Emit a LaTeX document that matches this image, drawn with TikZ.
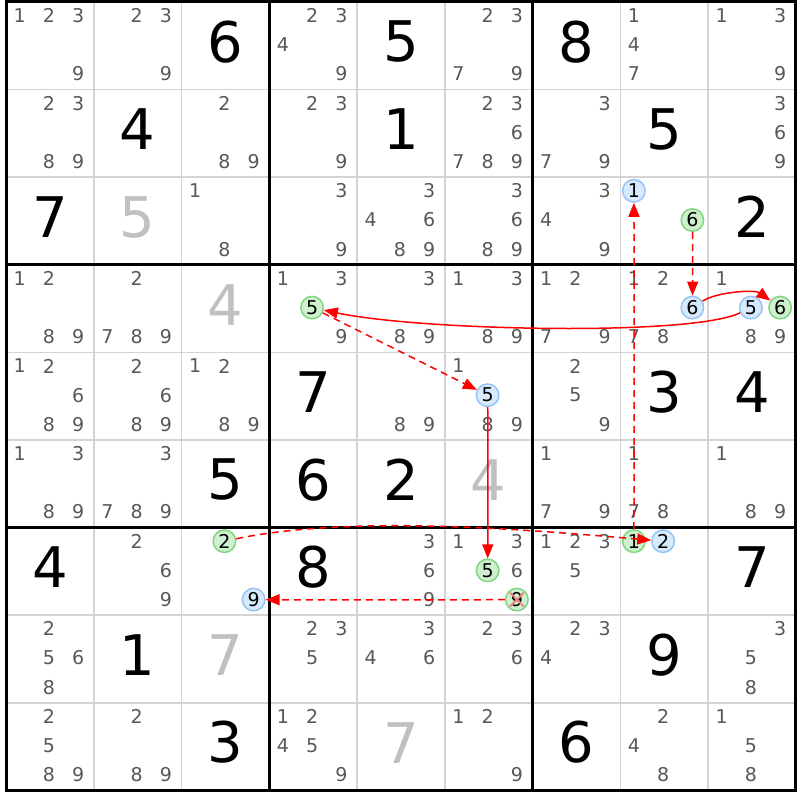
\documentclass[tikz,border=0pt]{standalone}
\usepackage{fontspec}
\setmainfont{DejaVu Sans}
\usetikzlibrary{arrows.meta}
\definecolor{candgray}{RGB}{88,88,88}
\definecolor{solvedgray}{RGB}{192,192,192}
\definecolor{thingray}{RGB}{212,212,212}
\definecolor{bluefill}{RGB}{215,233,252}
\definecolor{bluedraw}{RGB}{150,196,245}
\definecolor{greenfill}{RGB}{206,240,206}
\definecolor{greendraw}{RGB}{128,214,128}
\definecolor{linkred}{RGB}{255,0,0}
\definecolor{xred}{RGB}{240,130,130}
\tikzset{
  cand/.style={text=candgray,font=\fontsize{19}{21}\selectfont,inner sep=0pt},
  given/.style={text=black,font=\fontsize{56}{60}\selectfont,inner sep=0pt},
  solved/.style={text=solvedgray,font=\fontsize{56}{60}\selectfont,inner sep=0pt},
  hlbase/.style={circle,line width=1.5pt,minimum size=22.5pt,inner sep=0pt,text=black,font=\fontsize{19}{21}\selectfont},
  hlblue/.style={hlbase,draw=bluedraw,fill=bluefill},
  hlgreen/.style={hlbase,draw=greendraw,fill=greenfill},
  tipstyle/.style={-{Triangle[length=14pt,width=11pt]}},
  weaklink/.style={color=linkred,draw=linkred,line width=1.5pt,dash pattern=on 7pt off 5pt,tipstyle},
  stronglink/.style={color=linkred,draw=linkred,line width=1.5pt,tipstyle},
  thinline/.style={draw=thingray,line width=1.5pt},
  thickline/.style={draw=black,line width=3pt},
  xmark/.style={draw=xred,line width=1.8pt},
}
\newcommand\cellcands[3]{%
  \foreach \k in {#3}{%
    \pgfmathtruncatemacro\ii{(\k-1)/3}%
    \pgfmathtruncatemacro\jj{\k-1-3*\ii}%
    \node[cand] (n#1#2\k) at ({6+#2*87.75+(\jj+0.5)*29.25-1},{2+#1*87.6+(\ii+0.5)*29.2-1}) {\k};
  }}
\newcommand\hlcand[4]{%
  \pgfmathtruncatemacro\ii{(#3-1)/3}%
  \pgfmathtruncatemacro\jj{#3-1-3*\ii}%
  \node[#4] (n#1#2#3) at ({6+#2*87.75+(\jj+0.5)*29.25-1},{2+#1*87.6+(\ii+0.5)*29.2-1}) {#3};}
\newcommand\bigd[4]{\node[#4] (g#1#2) at ({6+(#2+0.5)*87.75},{2+(#1+0.5)*87.6-4}) {#3};}
\begin{document}
\begin{tikzpicture}[x=1pt,y=-1pt]
\useasboundingbox[fill=white] (0,0) rectangle (800,800);
% thin grid lines
\foreach \i in {1,2,4,5,7,8}{
  \draw[thinline] ({6+\i*87.75},2) -- ({6+\i*87.75},790.4);
  \draw[thinline] (6,{2+\i*87.6}) -- (795.75,{2+\i*87.6});
}
\foreach \i in {3,6}{
  \draw[thickline] ({6+\i*87.75},2) -- ({6+\i*87.75},790.4);
  \draw[thickline] (6,{2+\i*87.6}) -- (795.75,{2+\i*87.6});
}
\draw[thickline] (6,2) rectangle (795.75,790.4);
% row 0
\cellcands{0}{0}{1,2,3,9}
\cellcands{0}{1}{2,3,9}
\bigd{0}{2}{6}{given}
\cellcands{0}{3}{2,3,4,9}
\bigd{0}{4}{5}{given}
\cellcands{0}{5}{2,3,7,9}
\bigd{0}{6}{8}{given}
\cellcands{0}{7}{1,4,7}
\cellcands{0}{8}{1,3,9}
% row 1
\cellcands{1}{0}{2,3,8,9}
\bigd{1}{1}{4}{given}
\cellcands{1}{2}{2,8,9}
\cellcands{1}{3}{2,3,9}
\bigd{1}{4}{1}{given}
\cellcands{1}{5}{2,3,6,7,8,9}
\cellcands{1}{6}{3,7,9}
\bigd{1}{7}{5}{given}
\cellcands{1}{8}{3,6,9}
% row 2
\bigd{2}{0}{7}{given}
\bigd{2}{1}{5}{solved}
\cellcands{2}{2}{1,8}
\cellcands{2}{3}{3,9}
\cellcands{2}{4}{3,4,6,8,9}
\cellcands{2}{5}{3,6,8,9}
\cellcands{2}{6}{3,4,9}
\hlcand{2}{7}{1}{hlblue}
\hlcand{2}{7}{6}{hlgreen}
\bigd{2}{8}{2}{given}
% row 3
\cellcands{3}{0}{1,2,8,9}
\cellcands{3}{1}{2,7,8,9}
\bigd{3}{2}{4}{solved}
\cellcands{3}{3}{1,3,9}
\hlcand{3}{3}{5}{hlgreen}
\cellcands{3}{4}{3,8,9}
\cellcands{3}{5}{1,3,8,9}
\cellcands{3}{6}{1,2,7,9}
\cellcands{3}{7}{1,2,7,8}
\hlcand{3}{7}{6}{hlblue}
\cellcands{3}{8}{1,8,9}
\hlcand{3}{8}{5}{hlblue}
\hlcand{3}{8}{6}{hlgreen}
% row 4
\cellcands{4}{0}{1,2,6,8,9}
\cellcands{4}{1}{2,6,8,9}
\cellcands{4}{2}{1,2,8,9}
\bigd{4}{3}{7}{given}
\cellcands{4}{4}{8,9}
\cellcands{4}{5}{1,8,9}
\hlcand{4}{5}{5}{hlblue}
\cellcands{4}{6}{2,5,9}
\bigd{4}{7}{3}{given}
\bigd{4}{8}{4}{given}
% row 5
\cellcands{5}{0}{1,3,8,9}
\cellcands{5}{1}{3,7,8,9}
\bigd{5}{2}{5}{given}
\bigd{5}{3}{6}{given}
\bigd{5}{4}{2}{given}
\bigd{5}{5}{4}{solved}
\cellcands{5}{6}{1,7,9}
\cellcands{5}{7}{1,7,8}
\cellcands{5}{8}{1,8,9}
% row 6
\bigd{6}{0}{4}{given}
\cellcands{6}{1}{2,6,9}
\hlcand{6}{2}{2}{hlgreen}
\hlcand{6}{2}{9}{hlblue}
\bigd{6}{3}{8}{given}
\cellcands{6}{4}{3,6,9}
\cellcands{6}{5}{1,3,6}
\hlcand{6}{5}{5}{hlgreen}
\hlcand{6}{5}{9}{hlgreen}
\cellcands{6}{6}{1,2,3,5}
\hlcand{6}{7}{1}{hlgreen}
\hlcand{6}{7}{2}{hlblue}
\bigd{6}{8}{7}{given}
% row 7
\cellcands{7}{0}{2,5,6,8}
\bigd{7}{1}{1}{given}
\bigd{7}{2}{7}{solved}
\cellcands{7}{3}{2,3,5}
\cellcands{7}{4}{3,4,6}
\cellcands{7}{5}{2,3,6}
\cellcands{7}{6}{2,3,4}
\bigd{7}{7}{9}{given}
\cellcands{7}{8}{3,5,8}
% row 8
\cellcands{8}{0}{2,5,8,9}
\cellcands{8}{1}{2,8,9}
\bigd{8}{2}{3}{given}
\cellcands{8}{3}{1,2,4,5,9}
\bigd{8}{4}{7}{solved}
\cellcands{8}{5}{1,2,9}
\bigd{8}{6}{6}{given}
\cellcands{8}{7}{2,4,8}
\cellcands{8}{8}{1,5,8}
% elimination mark
\draw[xmark] ([shift={(-7,-7)}]n659.center) -- ([shift={(7,7)}]n659.center);
\draw[xmark] ([shift={(-7,7)}]n659.center) -- ([shift={(7,-7)}]n659.center);
% links
\begin{scope}[color=linkred]
\draw[weaklink] (n671) .. controls +(0.4,-110) and +(0.4,110) .. (n271);
\draw[weaklink] (n276) .. controls +(0.3,25) and +(0.3,-25) .. (n376);
\draw[stronglink] (n376) .. controls +(25,-16) and +(-25,-18) .. (n386);
\draw[stronglink] (n385) .. controls +(-60,29) and +(108,23) .. (n335);
\draw[weaklink] (n335) -- (n455);
\draw[stronglink] (n455) .. controls +(0.4,50) and +(0.4,-50) .. (n655);
\draw[weaklink] (n659) .. controls +(-80,0.4) and +(80,0.4) .. (n629);
\draw[weaklink] (n622) .. controls +(130,-27) and +(-130,-11) .. (n672);
\end{scope}
\end{tikzpicture}
\end{document}
